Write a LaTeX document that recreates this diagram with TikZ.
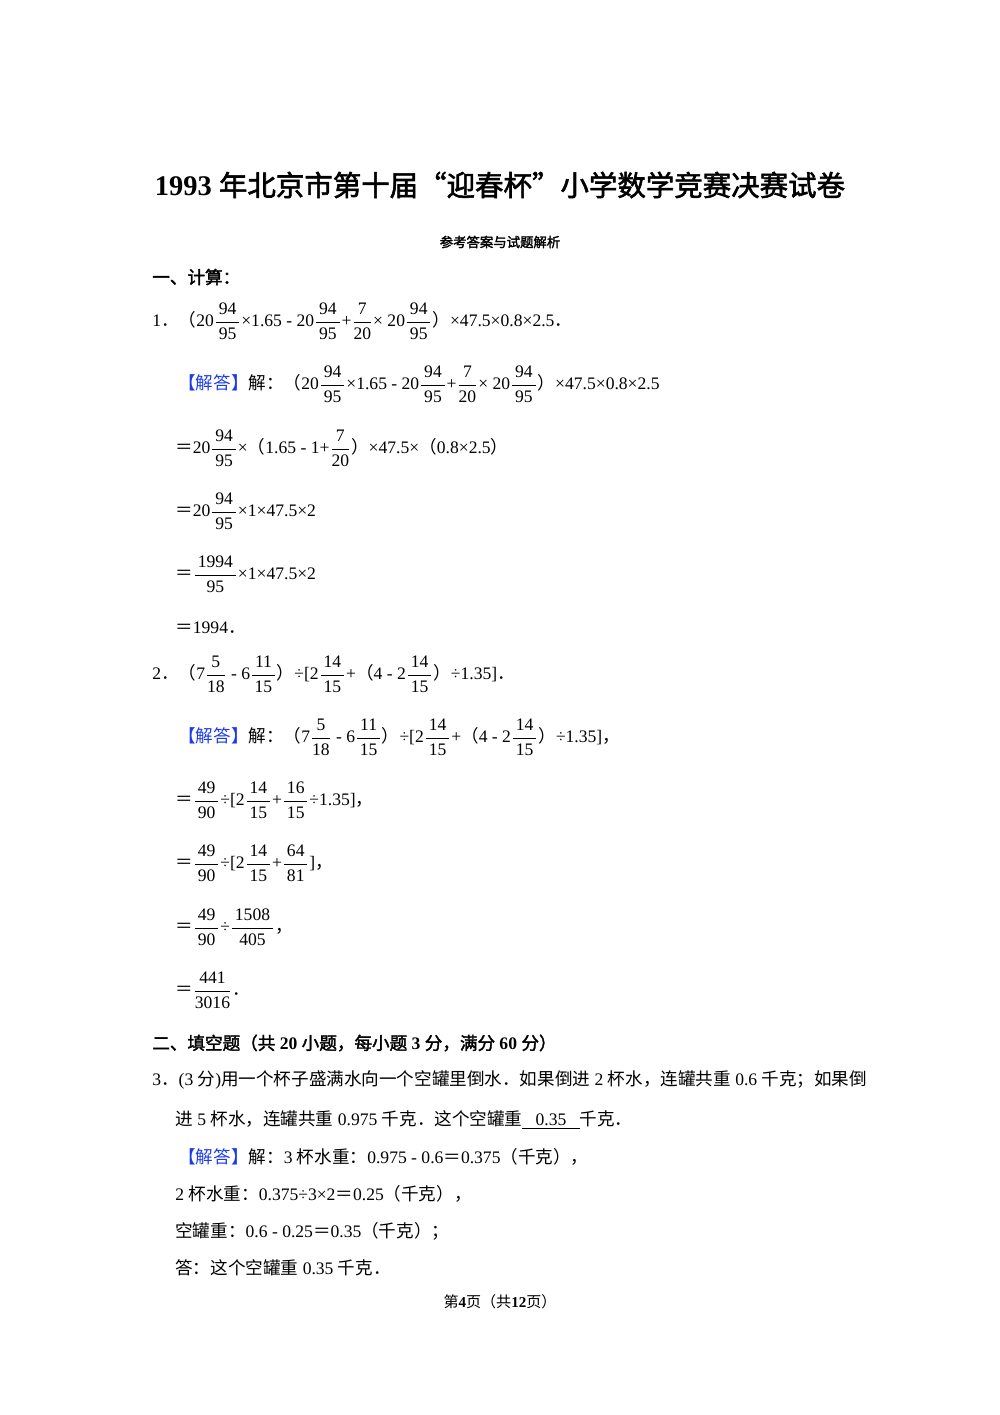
\documentclass[tikz,border=0pt]{standalone}
\usepackage{amsmath}
\usepackage{fontspec}
\setmainfont{Liberation Serif}
\newfontfamily\cj{Noto Sans CJK SC}[AutoFakeBold=2]
\XeTeXinterchartokenstate=1
\newXeTeXintercharclass\cjkclass
\newcount\cc
\cc="4E00 \loop\XeTeXcharclass\cc=\cjkclass \advance\cc 1 \ifnum\cc<"A000 \repeat
\cc="3000 \loop\XeTeXcharclass\cc=\cjkclass \advance\cc 1 \ifnum\cc<"3040 \repeat
\cc="FF00 \loop\XeTeXcharclass\cc=\cjkclass \advance\cc 1 \ifnum\cc<"FF60 \repeat
\XeTeXcharclass"201C=\cjkclass \XeTeXcharclass"201D=\cjkclass
\XeTeXinterchartoks 0 \cjkclass={\begingroup\cj}
\XeTeXinterchartoks 4095 \cjkclass={\begingroup\cj}
\XeTeXinterchartoks \cjkclass 0={\endgroup}
\XeTeXinterchartoks \cjkclass 4095={\endgroup}
\newcommand\fr[2]{$\genfrac{}{}{0.5pt}{0}{\mbox{\,#1\,}}{\mbox{#2}}$}
\newcommand\jd{\textcolor{jdblue}{【解答】}}
\definecolor{jdblue}{RGB}{30,60,230}
\begin{document}
\begin{tikzpicture}[x=0.021cm,y=-0.021cm,
  t/.style={anchor=west,inner sep=0pt,font=\fontsize{10.5pt}{12pt}\selectfont},
  c/.style={anchor=center,inner sep=0pt}]
\useasboundingbox (0,0) rectangle (1000,1415);
\node[c,font=\fontsize{17pt}{20pt}\selectfont\bfseries] (title) at (500,185) {1993 年北京市第十届“迎春杯”小学数学竞赛决赛试卷};
\node[c,font=\fontsize{8pt}{10pt}\selectfont\bfseries] (sub) at (500,242) {参考答案与试题解析};
\node[t,font=\fontsize{10.5pt}{12pt}\selectfont\bfseries] (h1) at (152,277) {一、计算：};
\node[t] (q1) at (152,321) {1．（20\fr{94}{95}×1.65 - 20\fr{94}{95}+\fr{7}{20}× 20\fr{94}{95}）×47.5×0.8×2.5．};
\node[t] (a1) at (178,384) {\jd 解：（20\fr{94}{95}×1.65 - 20\fr{94}{95}+\fr{7}{20}× 20\fr{94}{95}）×47.5×0.8×2.5};
\node[t] (a2) at (175,448) {＝20\fr{94}{95}×（1.65 - 1+\fr{7}{20}）×47.5×（0.8×2.5）};
\node[t] (a3) at (175,511) {＝20\fr{94}{95}×1×47.5×2};
\node[t] (a4) at (175,574) {＝\fr{1994}{95}×1×47.5×2};
\node[t] (a5) at (175,628) {＝1994．};
\node[t] (q2) at (152,674) {2．（7\fr{5}{18} - 6\fr{11}{15}）÷[2\fr{14}{15}+（4 - 2\fr{14}{15}）÷1.35]．};
\node[t] (b1) at (178,737) {\jd 解：（7\fr{5}{18} - 6\fr{11}{15}）÷[2\fr{14}{15}+（4 - 2\fr{14}{15}）÷1.35]，};
\node[t] (b2) at (175,800) {＝\fr{49}{90}÷[2\fr{14}{15}+\fr{16}{15}÷1.35]，};
\node[t] (b3) at (175,863) {＝\fr{49}{90}÷[2\fr{14}{15}+\fr{64}{81}]，};
\node[t] (b4) at (175,927) {＝\fr{49}{90}÷\fr{1508}{405}，};
\node[t] (b5) at (175,990) {＝\fr{441}{3016}．};
\node[t,font=\fontsize{10.5pt}{12pt}\selectfont\bfseries] (h2) at (152,1043) {二、填空题（共 20 小题，每小题 3 分，满分 60 分）};
\node[t] (q3) at (152,1080) {3．(3 分)用一个杯子盛满水向一个空罐里倒水．如果倒进 2 杯水，连罐共重 0.6 千克；如果倒};
\node[t] (q3b) at (175,1120) {进 5 杯水，连罐共重 0.975 千克．这个空罐重\underline{\ \ \ 0.35\ \ \ }千克．};
\node[t] (c1) at (178,1157) {\jd 解：3 杯水重：0.975 - 0.6＝0.375（千克），};
\node[t] (c2) at (175,1194) {2 杯水重：0.375÷3×2＝0.25（千克），};
\node[t] (c3) at (175,1231) {空罐重：0.6 - 0.25＝0.35（千克）；};
\node[t] (c4) at (175,1268) {答：这个空罐重 0.35 千克．};
\node[c,font=\fontsize{9pt}{11pt}\selectfont] (foot) at (500,1302) {第\textbf{4}页（共\textbf{12}页）};
\end{tikzpicture}
\end{document}
